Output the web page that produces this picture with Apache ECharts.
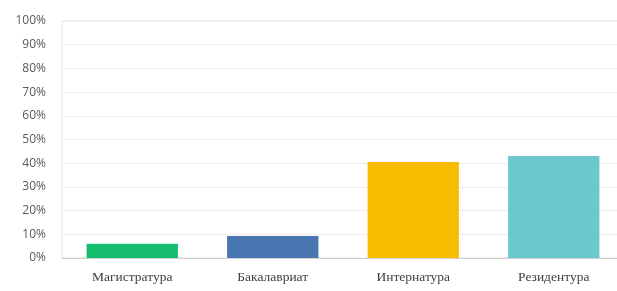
<!DOCTYPE html>
<html>
<head>
<meta charset="utf-8">
<script src="https://cdn.jsdelivr.net/npm/echarts@6/dist/echarts.min.js"></script>
<style>
  html, body { margin: 0; padding: 0; background: #fff; overflow: hidden; }
  #chart { width: 625px; height: 291px; }
</style>
</head>
<body>
<div id="chart"></div>
<script>
// данные
let categories = ["Магистратура", "Бакалавриат", "Интернатура", "Резидентура"];
let values = [6, 9.3, 40.5, 43];
let colors = ["#14BE6E", "#4A76B2", "#F8BD00", "#6BC8CC"];

let chart = echarts.init(document.getElementById("chart"));
let option = {
  animation: false,
  grid: {
    left: 62,
    right: 1,
    top: 21,
    bottom: 33,
    outerBoundsMode: "none",
    show: true,
    borderColor: "#e3e3e3",
    borderWidth: 1
  },
  xAxis: {
    type: "category",
    data: categories,
    axisLine: { lineStyle: { color: "#d0d0d0" } },
    axisTick: { show: false },
    axisLabel: {
      color: "#404040",
      fontFamily: "Liberation Serif",
      fontSize: 13.5,
      margin: 12
    }
  },
  yAxis: {
    type: "value",
    min: 0,
    max: 100,
    interval: 10,
    axisLine: { show: false },
    axisTick: { show: false },
    axisLabel: {
      formatter: "{value}%",
      color: "#595959",
      fontFamily: "Open Sans",
      fontSize: 12,
      margin: 16
    },
    splitLine: { lineStyle: { color: "#ececec" } }
  },
  series: [{
    type: "bar",
    barWidth: "65%",
    data: values.map((v, i) => ({ value: v, itemStyle: { color: colors[i] } }))
  }]
};
chart.setOption(option);
</script>
</body>
</html>
